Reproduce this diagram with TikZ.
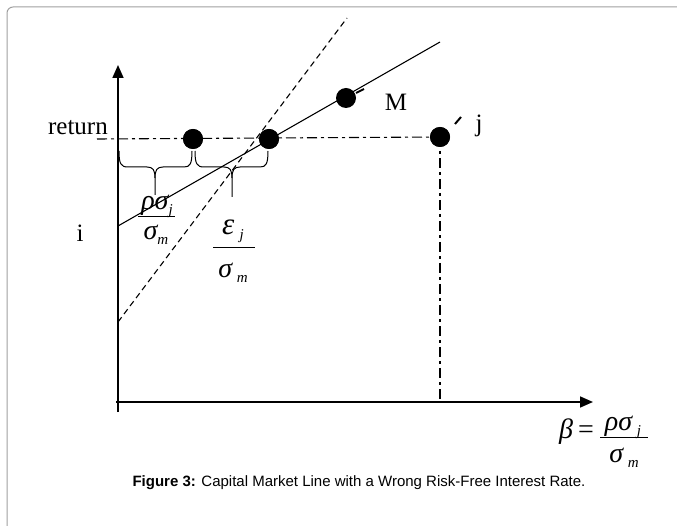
\documentclass[tikz,border=0pt]{standalone}
\usepackage{fontspec}
\setmainfont{Liberation Serif}
\newfontfamily\capfont{Liberation Sans}
\usetikzlibrary{arrows.meta}
\definecolor{framegray}{RGB}{160,160,160}
\newcommand{\mysub}[1]{\raisebox{-5pt}{\fontsize{15}{15}\selectfont\itshape #1}}
\tikzset{
  axisline/.style={line width=1.6pt, -{Triangle[length=13pt,width=11pt]}},
  dotnode/.style={circle, fill=black, minimum size=20pt, inner sep=0pt},
  dashdotline/.style={line width=1.1pt, dash pattern=on 10pt off 4pt on 3pt off 4pt},
  dashedline/.style={line width=1.1pt, dash pattern=on 6pt off 4pt},
  solidline/.style={line width=1.1pt},
  bracestyle/.style={line width=1pt},
  tickline/.style={line width=2pt},
  fracline/.style={line width=1pt},
  lbl/.style={inner sep=0pt, font=\fontsize{25}{28}\selectfont},
  gk/.style={inner sep=0pt, font=\fontsize{28}{30}\selectfont\itshape},
}
\begin{document}
\begin{tikzpicture}[x=1pt,y=-1pt]
\useasboundingbox (0,0) rectangle (677,526);
\clip (0,0) rectangle (677,526);
\draw[framegray, line width=1pt, rounded corners=6pt] (7,7) rectangle (720,580);

% coordinates
\coordinate (ytop) at (118,65);
\coordinate (ybot) at (118,412);
\coordinate (xl) at (116,402);
\coordinate (xr) at (593,402);
\coordinate (rl) at (97,139);
\coordinate (cmlA) at (118,226);
\coordinate (cmlB) at (440,42);
\coordinate (dA) at (118,322);
\coordinate (dB) at (347,18);
\coordinate (vb) at (440,402);

% lines
\draw[dashedline] (dA) -- (dB);
\draw[solidline] (cmlA) -- (cmlB);
\node[dotnode] (d1) at (193,139) {};
\node[dotnode] (d2) at (269,139) {};
\node[dotnode] (M) at (346,98) {};
\node[dotnode] (J) at (440,137) {};
\draw[dashdotline] (rl) -- (J.center);
\draw[dashdotline] (J.center) -- (vb);
\node[dotnode] at (d1) {};
\node[dotnode] at (d2) {};
\node[dotnode] at (J) {};

\draw[axisline] (ybot) -- (ytop);
\draw[axisline] (xl) -- (xr);

% small ticks
\coordinate (mt1) at (356,93);
\coordinate (mt2) at (364,89);
\draw[tickline] (mt1) -- (mt2);
\coordinate (jt1) at (455,124);
\coordinate (jt2) at (461,117);
\draw[tickline] (jt1) -- (jt2);

% braces
\coordinate (b1l) at (119,151);
\coordinate (b1t) at (155,195);
\coordinate (b1r) at (192,151);
\draw[bracestyle] (b1l) .. controls (119,164) and (121,167) .. (128,167) -- (147,167)
  .. controls (153,167) and (155,170) .. (155,178) -- (b1t);
\draw[bracestyle] (155,178) .. controls (155,170) and (157,167) .. (163,167) -- (184,167)
  .. controls (190,167) and (192,164) .. (b1r);
\coordinate (b2l) at (195,151);
\coordinate (b2t) at (232,197);
\coordinate (b2r) at (268,151);
\draw[bracestyle] (b2l) .. controls (195,164) and (197,167) .. (204,167) -- (224,167)
  .. controls (230,167) and (232,170) .. (232,178) -- (b2t);
\draw[bracestyle] (232,178) .. controls (232,170) and (234,167) .. (240,167) -- (260,167)
  .. controls (266,167) and (268,164) .. (b2r);

% labels
\node[lbl, anchor=base east] (ret) at (108,135) {return};
\node[lbl, anchor=base] (ilbl) at (80,242) {i};
\node[lbl, anchor=base] (mlbl) at (396,111) {M};
\node[lbl, anchor=base] (jlbl) at (479,132) {j};

% fraction 1
\node[gk, anchor=base] (f1n) at (157,210) {ρσ\mysub{j}};
\coordinate (f1a) at (138,217);
\coordinate (f1b) at (175,217);
\draw[fracline] (f1a) -- (f1b);
\node[gk, anchor=base] (f1d) at (156,240) {σ\mysub{m}};

% fraction 2
\node[gk, anchor=base, font=\fontsize{31}{32}\selectfont\itshape] (f2n) at (233,235) {ε\,\mysub{j}};
\coordinate (f2a) at (213,248);
\coordinate (f2b) at (255,248);
\draw[fracline] (f2a) -- (f2b);
\node[gk, anchor=base] (f2d) at (233,278) {σ\,\mysub{m}};

% beta
\node[gk, anchor=base] (beta) at (566,438) {β};
\node[inner sep=0pt, font=\fontsize{28}{30}\selectfont, anchor=base] (eq) at (586,438) {=};
\node[gk, anchor=base] (f3n) at (623,430) {ρσ\,\mysub{j}};
\coordinate (f3a) at (600,437);
\coordinate (f3b) at (648,437);
\draw[fracline] (f3a) -- (f3b);
\node[gk, anchor=base] (f3d) at (624,462) {σ\,\mysub{m}};

\node[inner sep=0pt, font=\capfont\fontsize{15}{18}\selectfont] (cap) at (359,483)
  {\textbf{Figure 3:} Capital Market Line with a Wrong Risk-Free Interest Rate.};
\end{tikzpicture}
\end{document}
